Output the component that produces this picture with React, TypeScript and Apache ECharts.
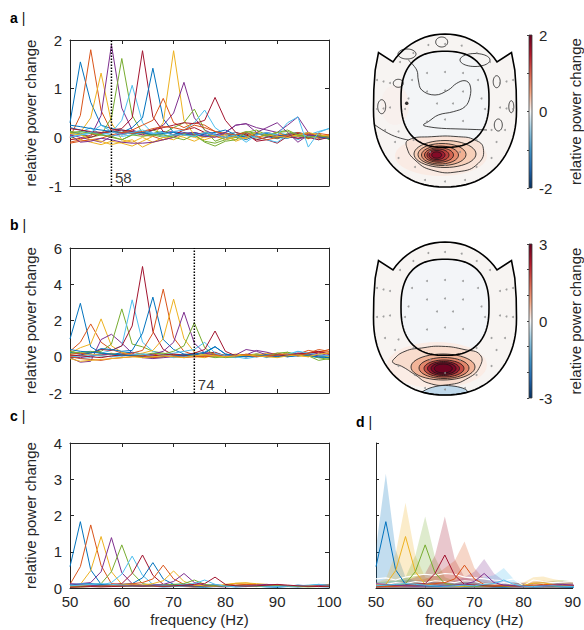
import React, { useEffect, useRef } from "react";
import * as echarts from "echarts";

const FONT = "'Liberation Sans', Arial, Helvetica, sans-serif";
const INK = "#262626";
const FS = 15;
const FREQ = [50, 52, 54, 56, 58, 60, 62, 64, 66, 68, 70, 72, 74, 76, 78, 80, 82, 84, 86, 88, 90, 92, 94, 96, 98, 100];
const MATLAB = ["#0072BD", "#D95319", "#EDB120", "#7E2F8E", "#77AC30", "#4DBEEE", "#A2142F"];

// ---- panel a (relative power change, peak at 58 Hz marked)
const A00 = [0.30,1.55,0.72,0.25,0.18,0.15,0.12,0.10,0.08,0.12,0.05,0.08,0.10,0.05,0.02,0.06,0.00,0.04,0.08,0.02,-0.03,0.05,0.02,-0.02,0.04,0.00];
const A01 = [0.00,0.45,1.80,0.55,0.12,0.05,0.10,0.05,0.02,-0.05,0.00,0.08,0.05,0.10,0.02,-0.04,0.05,0.10,0.00,0.05,-0.02,0.03,0.08,0.05,0.00,0.02];
const A02 = [0.05,0.10,0.40,1.32,0.30,-0.05,-0.10,0.00,-0.10,-0.05,0.05,0.00,-0.08,0.02,0.05,0.00,-0.05,0.03,-0.02,0.05,0.00,0.06,0.02,-0.03,0.04,0.02];
const A03 = [0.12,0.06,0.02,0.45,1.90,0.60,0.15,0.08,0.05,0.10,0.12,0.08,0.10,0.05,0.02,0.06,0.04,0.00,0.05,0.10,0.05,0.02,-0.02,0.03,0.00,0.02];
const A04 = [0.10,0.05,0.00,0.05,0.40,1.62,0.45,0.08,0.05,0.00,0.03,0.08,0.05,-0.08,-0.12,-0.05,0.00,0.05,0.10,0.05,-0.02,0.08,0.03,0.05,-0.02,0.00];
const A05 = [0.05,0.10,0.20,0.05,0.10,0.35,1.07,0.30,0.08,0.02,0.05,0.10,0.06,0.02,0.08,-0.05,0.05,0.10,-0.05,0.00,0.10,0.05,-0.05,0.05,0.12,0.18];
const A06 = [-0.05,-0.02,0.00,0.08,0.15,0.18,0.40,1.78,0.42,0.12,0.05,0.15,0.20,0.10,0.05,0.00,0.05,0.08,-0.08,-0.05,-0.12,0.02,0.08,-0.02,0.05,0.00];
const A07 = [0.20,0.15,0.10,0.08,0.12,0.10,0.20,0.40,1.42,0.38,0.10,0.05,0.08,0.02,0.05,0.10,0.02,-0.05,0.05,0.08,0.00,-0.02,0.05,0.10,0.00,-0.02];
const A08 = [-0.10,-0.05,0.05,0.08,0.12,0.10,0.15,0.25,0.35,0.80,0.30,0.20,0.30,0.25,0.12,0.05,0.10,0.02,0.08,0.05,0.10,0.02,0.05,0.08,-0.02,0.05];
const A09 = [0.00,-0.05,-0.10,-0.15,-0.08,-0.12,-0.18,-0.08,0.02,0.30,1.78,0.35,0.05,0.00,0.05,-0.05,0.02,-0.03,0.08,0.05,0.10,0.00,0.05,0.02,0.00,0.05];
const A10 = [0.05,0.00,-0.05,-0.10,0.02,0.08,0.10,0.05,0.15,0.25,0.50,1.13,0.40,0.15,0.05,0.10,0.25,0.28,0.20,0.15,0.10,0.25,0.42,0.10,0.00,-0.02];
const A11 = [0.12,0.08,0.10,0.05,0.00,-0.05,0.05,0.10,0.15,0.08,0.20,0.30,0.58,0.15,-0.08,0.00,0.05,0.12,0.08,0.02,0.10,0.15,0.05,0.00,0.08,-0.05];
const A12 = [0.00,0.05,0.08,0.10,0.05,0.02,0.05,0.10,0.08,0.05,0.12,0.15,0.30,0.56,0.20,0.05,0.10,0.02,0.00,-0.05,-0.10,0.05,0.10,0.02,-0.05,0.02];
const A13 = [0.18,0.15,0.12,0.10,0.12,0.15,0.12,0.10,0.15,0.20,0.25,0.30,0.28,0.35,0.82,0.35,0.10,0.05,-0.05,0.00,0.05,0.02,-0.02,0.00,-0.05,0.00];
const A14 = [0.25,0.22,0.18,0.15,0.12,0.10,0.08,0.10,0.05,0.08,0.10,0.05,0.02,0.08,0.10,0.15,0.05,0.00,0.08,0.05,0.02,0.06,0.10,0.05,0.02,-0.02];
const A15 = [-0.12,-0.08,-0.05,-0.02,0.05,0.10,0.08,0.12,0.18,0.22,0.20,0.15,0.25,0.20,0.12,0.08,0.05,0.10,0.02,-0.05,0.00,0.05,0.10,0.05,0.08,0.05];
const A16 = [0.08,0.05,-0.05,-0.08,-0.15,-0.10,-0.05,-0.20,-0.10,0.00,-0.05,0.05,0.00,-0.05,0.02,0.05,-0.08,0.00,0.10,0.05,0.02,0.00,0.05,0.10,0.05,0.02];
const A17 = [0.05,-0.10,-0.08,-0.02,-0.05,-0.10,-0.12,-0.12,-0.10,-0.05,0.00,0.10,0.05,0.02,0.00,0.10,0.25,0.28,0.10,0.20,0.30,0.10,-0.10,0.05,0.02,0.00];
const A18 = [0.10,0.12,0.08,0.05,0.02,-0.05,0.05,0.02,0.05,0.05,0.00,-0.05,0.05,-0.10,-0.18,-0.08,-0.05,0.10,0.15,0.05,0.10,0.12,0.05,0.00,0.03,0.00];
const A19 = [0.00,0.05,0.10,0.25,0.12,0.05,0.10,0.15,0.08,0.10,0.05,0.05,0.02,0.10,0.05,0.00,0.05,-0.10,0.05,0.10,0.05,0.30,0.42,-0.20,0.10,0.18];
const PANEL_A = [A00,A01,A02,A03,A04,A05,A06,A07,A08,A09,A10,A11,A12,A13,A14,A15,A16,A17,A18,A19];
const A_MARK = 58;

// ---- panel b (peak at 74 Hz marked)
const B00 = [0.98,2.95,0.55,0.20,0.15,0.20,0.25,0.15,0.10,0.05,0.00,0.10,0.05,0.08,0.02,0.10,0.05,0.00,0.15,0.10,0.05,0.00,0.10,0.05,-0.05,0.00];
const B01 = [0.30,0.80,1.81,0.80,0.40,0.20,0.10,0.05,0.15,0.05,0.00,0.10,0.05,0.10,0.20,0.05,0.00,0.10,0.05,0.15,0.10,0.05,0.20,0.15,0.30,0.25];
const B02 = [0.20,0.50,0.70,2.09,0.60,0.25,0.10,0.05,0.00,0.15,0.10,0.05,0.00,-0.05,0.10,0.05,0.15,0.10,0.05,0.20,0.10,0.15,0.05,0.00,0.10,0.05];
const B03 = [-0.05,-0.30,-0.25,0.95,1.24,0.75,0.20,-0.05,-0.10,-0.05,0.00,0.05,0.00,0.05,0.10,0.05,0.00,0.10,0.35,0.25,0.10,0.05,0.15,0.10,0.20,0.05];
const B04 = [0.30,0.20,0.25,0.30,0.70,2.64,0.70,0.55,0.30,0.20,0.10,0.05,0.10,0.05,-0.05,0.00,0.05,0.10,0.15,0.05,0.00,0.25,0.10,0.05,-0.20,-0.10];
const B05 = [0.10,-0.10,-0.05,0.20,0.35,0.60,3.14,0.80,0.30,0.10,-0.05,0.00,0.05,0.10,0.05,0.00,-0.05,0.05,0.10,-0.05,0.10,0.05,0.30,0.15,0.10,0.05];
const B06 = [0.05,0.10,0.20,0.40,0.35,0.60,1.70,4.98,1.40,0.40,0.10,0.05,0.15,0.20,0.25,0.05,0.10,0.00,0.05,0.10,0.00,0.05,0.10,0.20,0.25,0.15];
const B07 = [0.25,0.15,0.20,0.45,0.40,0.30,0.35,1.30,3.29,0.95,0.40,0.15,0.10,0.20,0.55,0.15,0.05,0.10,0.00,0.05,0.10,0.00,0.05,0.10,0.05,0.00];
const B08 = [0.15,0.20,0.10,0.05,0.00,0.10,0.20,0.35,1.30,3.73,1.05,0.30,0.10,0.00,0.05,0.10,0.00,0.15,0.05,0.10,0.20,0.10,0.15,0.35,0.25,0.40];
const B09 = [0.10,0.05,0.15,0.10,0.20,0.05,0.10,0.20,0.35,1.00,3.18,1.00,0.25,0.10,0.05,0.00,0.10,0.05,0.15,0.10,0.05,0.20,0.15,0.05,0.10,0.00];
const B10 = [0.00,-0.05,0.05,0.10,0.15,0.05,0.10,0.05,0.15,0.30,0.80,2.46,0.75,0.20,0.10,0.05,0.10,0.40,0.30,0.10,0.05,0.10,0.20,0.15,0.05,0.10];
const B11 = [0.20,0.25,0.30,0.20,0.15,0.10,0.05,0.10,0.20,0.15,0.30,0.60,1.88,0.50,0.05,-0.05,0.00,0.05,0.10,0.00,0.20,0.25,0.05,0.10,-0.05,-0.15];
const B12 = [0.00,0.05,0.10,0.05,0.00,0.05,0.10,0.15,0.05,0.10,0.20,0.30,0.40,0.80,0.20,0.05,0.00,-0.10,0.00,0.10,0.05,0.15,0.30,0.20,0.10,0.05];
const B13 = [0.10,0.05,0.00,-0.05,0.05,0.10,0.05,0.00,0.05,0.10,0.15,0.10,0.20,0.40,1.42,0.30,0.05,0.10,0.05,0.00,0.10,0.05,0.15,0.20,0.30,0.15];
const B14 = [0.40,0.30,0.25,0.20,0.15,0.10,0.05,0.00,-0.05,0.00,0.05,0.10,0.15,0.25,0.56,0.15,0.05,0.00,0.05,0.10,0.00,0.05,0.10,0.05,0.00,-0.05];
const B15 = [0.00,-0.10,-0.15,-0.20,-0.10,-0.05,0.00,0.05,-0.05,0.00,0.05,-0.05,0.00,0.05,0.10,0.00,0.05,0.10,0.00,0.05,0.10,0.15,0.05,0.20,0.40,0.30];
const B16 = [-0.10,-0.25,-0.20,-0.15,-0.10,-0.05,0.00,-0.05,0.00,0.05,0.00,-0.05,0.05,0.10,0.05,0.00,0.05,0.10,0.05,0.00,-0.05,0.05,0.10,0.00,0.15,0.20];
const PANEL_B = [B00,B01,B02,B03,B04,B05,B06,B07,B08,B09,B10,B11,B12,B13,B14,B15,B16];
const B_MARK = 74;

// ---- panel c (group average)
const C00 = [0.59,1.83,0.50,0.10,0.08,0.06,0.05,0.04,0.05,0.03,0.04,0.05,0.03,0.02,0.04,0.05,0.03,0.04,0.05,0.03,0.02,0.04,0.03,0.05,0.04,0.03];
const C01 = [0.10,0.59,1.74,0.62,0.12,0.08,0.06,0.05,0.04,0.06,0.05,0.04,0.03,0.05,0.04,0.06,0.12,0.10,0.08,0.06,0.05,0.04,0.06,0.05,0.04,0.06];
const C02 = [0.08,0.10,0.48,1.42,0.45,0.10,0.08,0.06,0.05,0.04,0.06,0.05,0.04,0.05,0.06,0.08,0.13,0.14,0.10,0.08,0.06,0.05,0.04,0.06,0.05,0.04];
const C03 = [0.06,0.12,0.15,0.45,1.39,0.42,0.12,0.08,0.06,0.05,0.04,0.05,0.06,0.05,0.04,0.03,0.05,0.06,0.05,0.08,0.09,0.06,0.05,0.04,0.06,0.05];
const C04 = [0.05,0.06,0.08,0.12,0.45,1.19,0.42,0.12,0.08,0.06,0.05,0.06,0.05,0.04,0.05,0.06,0.05,0.04,0.05,0.06,0.05,0.04,0.06,0.05,0.04,0.05];
const C05 = [0.10,0.12,0.10,0.08,0.15,0.38,0.88,0.35,0.10,0.08,0.06,0.05,0.06,0.08,0.10,0.06,0.05,0.04,0.05,0.04,0.06,0.05,0.04,0.06,0.10,0.08];
const C06 = [0.04,0.05,0.06,0.08,0.10,0.12,0.40,0.91,0.35,0.10,0.08,0.06,0.05,0.06,0.08,0.06,0.05,0.04,0.06,0.08,0.06,0.05,0.04,0.05,0.06,0.05];
const C07 = [0.08,0.10,0.12,0.10,0.08,0.10,0.12,0.28,0.70,0.25,0.10,0.08,0.06,0.05,0.04,0.05,0.06,0.05,0.04,0.05,0.06,0.05,0.08,0.06,0.05,0.04];
const C08 = [0.03,0.04,0.05,0.06,0.08,0.10,0.12,0.15,0.25,0.63,0.25,0.10,0.08,0.06,0.05,0.06,0.08,0.10,0.09,0.08,0.07,0.06,0.05,0.06,0.08,0.10];
const C09 = [0.05,0.06,0.05,0.04,0.06,0.08,0.10,0.08,0.12,0.20,0.47,0.18,0.08,0.06,0.05,0.10,0.13,0.14,0.12,0.10,0.08,0.06,0.05,0.06,0.05,0.04];
const C10 = [0.12,0.10,0.08,0.06,0.05,0.06,0.08,0.06,0.08,0.10,0.18,0.40,0.15,0.08,0.06,0.05,0.04,0.06,0.08,0.10,0.08,0.06,0.05,0.04,0.06,0.05];
const C11 = [0.02,0.03,0.04,0.05,0.04,0.05,0.06,0.05,0.06,0.08,0.10,0.12,0.22,0.10,0.06,0.05,0.06,0.05,0.04,0.05,0.06,0.05,0.04,0.03,0.04,0.05];
const C12 = [0.06,0.08,0.10,0.12,0.10,0.08,0.06,0.05,0.06,0.08,0.06,0.10,0.12,0.22,0.10,0.05,0.04,0.05,0.06,0.05,0.04,0.05,0.06,0.08,0.10,0.08];
const C13 = [0.02,0.03,0.04,0.03,0.04,0.05,0.06,0.05,0.06,0.05,0.06,0.08,0.10,0.12,0.30,0.10,0.06,0.05,0.06,0.08,0.10,0.08,0.06,0.05,0.04,0.05];
const PANEL_C = [C00,C01,C02,C03,C04,C05,C06,C07,C08,C09,C10,C11,C12,C13];

// ---- panel d (every other condition of c, with spread bands)
const D_MEAN_INDEX = [0, 2, 4, 6, 8, 10, 12];
const U00 = [1.10,3.15,1.05,0.30,0.20,0.18,0.15,0.12,0.12,0.10,0.10,0.12,0.10,0.08,0.10,0.12,0.10,0.10,0.12,0.10,0.08,0.10,0.10,0.12,0.10,0.08];
const U02 = [0.15,0.25,0.95,2.35,0.90,0.30,0.20,0.15,0.12,0.10,0.12,0.15,0.12,0.10,0.12,0.15,0.30,0.32,0.25,0.20,0.15,0.12,0.10,0.12,0.10,0.10];
const U04 = [0.15,0.18,0.20,0.30,0.90,1.97,0.85,0.30,0.20,0.18,0.15,0.15,0.12,0.12,0.15,0.12,0.15,0.18,0.20,0.22,0.18,0.15,0.12,0.12,0.15,0.12];
const U06 = [0.10,0.12,0.15,0.20,0.30,0.40,0.90,1.97,0.80,0.30,0.20,0.15,0.12,0.12,0.15,0.12,0.10,0.12,0.15,0.12,0.10,0.12,0.10,0.12,0.10,0.10];
const U08 = [0.10,0.10,0.12,0.15,0.20,0.25,0.35,0.55,0.75,1.28,0.55,0.25,0.15,0.12,0.12,0.15,0.18,0.20,0.18,0.15,0.15,0.12,0.12,0.15,0.15,0.18];
const U10 = [0.15,0.12,0.12,0.10,0.12,0.15,0.18,0.15,0.20,0.30,0.45,0.80,0.40,0.20,0.15,0.12,0.12,0.15,0.15,0.18,0.15,0.12,0.10,0.12,0.12,0.10];
const U12 = [0.15,0.18,0.20,0.22,0.20,0.18,0.15,0.12,0.15,0.18,0.20,0.30,0.35,0.55,0.25,0.12,0.10,0.12,0.15,0.12,0.10,0.12,0.12,0.15,0.18,0.15];
const D_UPPER = [U00, U02, U04, U06, U08, U10, U12];
const W01 = [0.25,0.28,0.22,0.30,0.35,0.38,0.35,0.40,0.38,0.30,0.28,0.25,0.22,0.20,0.25,0.06,0.22,0.18,0.15,0.16,0.18,0.15,0.14,0.12,0.14,0.12];
const W02 = [0.12,0.10,0.15,0.12,0.18,0.15,0.20,0.18,0.15,0.20,0.18,0.12,0.10,0.15,0.10,0.05,0.08,0.12,0.10,0.08,0.06,0.08,0.10,0.08,0.06,0.05];
const D_WHITE = [W01, W02];

// ---- topographies: sensor positions (mm from head centre)
const SENSORS = [
  [-16.7,65],[0,66],[16.7,64.3],[-31.7,57],[31.7,57],[-45,48],[45,48],
  [-18,37],[0,38],[18,37],[-33,30],[33,30],
  [-68,30],[-61.5,28.5],[-55,27],[55,27],[61.5,28.5],[68,30],
  [-18,18.5],[0,19.5],[18,18.5],[-36.5,11.5],[36.5,11.5],
  [-68,1],[-61.5,1.5],[-55,2.5],[-40,1],[-8,6.5],[8,6.5],[40,1],[55,2.5],[61.5,1.5],[68,1],
  [-18,-11.5],[0,-9.5],[18,-11],[-60,-20],[-46.5,-21.5],[46.5,-20],[60,-20],
  [-31.5,-30],[31.5,-30],[-50,-32],[51.5,-32],[-46.5,-48],[46.5,-48],[-15,-42],[15,-42],
  [-30,-57],[31.5,-57],[0,-55],[-20,-70],[0,-71.5],[20,-70]
];
const MARKED_SENSOR_A = [[-38.3, 6.7]];
const CB_A = [-2, 2];
const CB_B = [-3, 3];
const RDBU = ["#67001f","#b2182b","#d6604d","#f4a582","#f7f7f7","#92c5de","#4393c3","#2166ac","#053061"];

// ---------- geometry helpers for the head drawings ----------
const BOTTOM_P = 2.2;
function ellipse(c: number[], r: number[], n = 44) {
  const pts: number[][] = [];
  for (let i = 0; i < n; i++) {
    const t = (2 * Math.PI * i) / n;
    pts.push([c[0] + r[0] * Math.cos(t), c[1] + r[1] * Math.sin(t)]);
  }
  return pts;
}
function superEllipse(c: number[], r: number[], p: number, n = 90) {
  const pts: number[][] = [];
  for (let i = 0; i < n; i++) {
    const t = (2 * Math.PI * i) / n;
    const co = Math.cos(t), si = Math.sin(t);
    pts.push([c[0] + r[0] * Math.sign(co) * Math.pow(Math.abs(co), 2 / p), c[1] + r[1] * Math.sign(si) * Math.pow(Math.abs(si), 2 / p)]);
  }
  return pts;
}
function bottomY(x: number) {
  const q = Math.pow(Math.abs(x / 71.5), BOTTOM_P);
  return -77 * Math.pow(Math.max(0, 1 - q), 1 / BOTTOM_P);
}
function headOutline() {
  const pts: number[][] = [[-71.5, 0], [-71.2, 20], [-69.8, 40], [-66.5, 57.5], [-52, 48]];
  const a0 = Math.atan2(48 - 13.7, -52), a1 = Math.atan2(48 - 13.7, 52);
  for (let i = 1; i < 24; i++) {
    const t = a0 + ((a1 - a0) * i) / 24;
    pts.push([62.3 * Math.cos(t), 13.7 + 62.3 * Math.sin(t)]);
  }
  pts.push([52, 48], [66.5, 57.5], [69.8, 40], [71.2, 20], [71.5, 0]);
  for (let i = 1; i < 48; i++) {
    const t = -(Math.PI * i) / 48;
    const co = Math.cos(t), si = Math.sin(t);
    pts.push([71.5 * Math.sign(co) * Math.pow(Math.abs(co), 2 / BOTTOM_P), 77 * Math.sign(si) * Math.pow(Math.abs(si), 2 / BOTTOM_P)]);
  }
  return pts;
}
const HEAD_OUTLINE = headOutline();
const INNER_O = superEllipse([0, 10.7], [44, 48], 2.5);
function blueCap() {
  const pts: number[][] = [[-23, bottomY(-23)], [-15, -70], [-3, -67.5], [10, -68.3], [20, -71], [23, bottomY(23)]];
  for (let x = 21; x >= -21; x -= 3) pts.push([x, bottomY(x)]);
  return pts;
}

const HEAD_A = {
  fill: "#f7f4f2",
  innerFill: "#f3f5f7",
  halos: [
    { c: [-4, -46], r: [46, 20], fill: "#faebe4" },
    { c: [-50, 5], r: [14, 20], fill: "#f8f0ed" }
  ],
  shapes: [
    { pts: [[-36.7,-30],[-13.3,-26.7],[13.3,-26.7],[30,-30],[38.3,-38.3],[33.3,-53.3],[13.3,-61.7],[-13.3,-60],[-30,-50],[-38,-38]], smooth: 0.5, fill: "#f9e3d8" },
    { c: [0, -44], r: [31, 13.5], fill: "#f7cfb9" },
    { c: [-3, -44.5], r: [24, 11], fill: "#f1b093" },
    { c: [-5, -45], r: [18.5, 9], fill: "#e68b6d" },
    { c: [-6, -45], r: [14.5, 7.3], fill: "#d2634f" },
    { c: [-7, -45], r: [11, 6], fill: "#bb3d3d" },
    { c: [-8, -45], r: [8, 4.6], fill: "#a11e32" },
    { c: [-8.3, -45], r: [5, 3.2], fill: "#840b27" },
    { pts: [[-71.3,-14],[-53.3,-25],[-36.7,-30]], open: true, smooth: 0.5 },
    { pts: [[-36.7,50],[-28.3,40],[-26.7,30],[-23.3,20],[-10,15],[3.3,20],[11.7,26.7],[20,29.3],[25,25],[25,13.3],[20,3.3],[8.3,-1.7],[-6.7,-5],[-16.7,-11.7],[-21.7,-15],[-16.7,-16.7],[-3.3,-18.3],[15,-19],[30,-19.5],[42,-20]], open: true, smooth: 0.4 },
    { c: [-3.3, 68], r: [6, 5] },
    { c: [-46.7, 26.7], r: [5, 4] },
    { c: [-63.3, 3.3], r: [4, 7] },
    { c: [51.7, 28.3], r: [3.5, 6] },
    { c: [66.3, 3.3], r: [2.5, 6] },
    { c: [53.3, -15], r: [4, 6] },
    { c: [30, 50], r: [15, 6.5] },
    { c: [-38, 56], r: [9, 5] }
  ]
};
const HEAD_B = {
  fill: "#f7f4f2",
  innerFill: "#f3f5f8",
  halos: [
    { c: [-8, -47], r: [50, 23], fill: "#fbece5" }
  ],
  shapes: [
    { pts: [[-51.7,-41.7],[-40,-33.3],[-23.3,-30],[-3.3,-28.3],[20,-31.7],[35,-36.7],[35,-48.3],[23.3,-60],[3.3,-66.7],[-16.7,-65],[-30,-56.7],[-43.3,-48.3],[-51.7,-45]], smooth: 0.5, fill: "#f8dccd" },
    { pts: blueCap(), smooth: 0.3, fill: "#bfd8ea" },
    { c: [-2, -49], r: [32, 13], fill: "#f2b498" },
    { c: [-1, -50], r: [25, 10.5], fill: "#e2866b" },
    { c: [-1, -50.5], r: [20, 8.5], fill: "#c34b43" },
    { c: [-1.5, -50.5], r: [16, 7], fill: "#961b30" },
    { c: [-1.5, -50.5], r: [12.5, 5.8], fill: "#7c0926" },
    { c: [-1.7, -50.5], r: [9, 4.5], fill: "#6e0322" }
  ]
};

function makeHeadRenderer(spec: any) {
  return (params: any, api: any) => {
    const px = (pts: number[][]) => pts.map((p) => api.coord(p));
    const outline = px(HEAD_OUTLINE);
    const inner = px(INNER_O);
    const children: any[] = [];
    children.push({ type: "polygon", shape: { points: outline }, style: { fill: spec.fill, lineWidth: 0 } });
    children.push({ type: "polygon", shape: { points: inner }, style: { fill: spec.innerFill, lineWidth: 0 } });
    spec.halos.forEach((h: any) =>
      children.push({ type: "polygon", shape: { points: px(ellipse(h.c, h.r)) }, style: { fill: h.fill, lineWidth: 0 } })
    );
    spec.shapes.forEach((s: any) => {
      const pts = px(s.pts ? s.pts : ellipse(s.c, s.r));
      children.push({
        type: s.open ? "polyline" : "polygon",
        shape: { points: pts, smooth: s.smooth || 0 },
        style: { fill: s.open ? "none" : s.fill || "none", stroke: "#151515", lineWidth: 0.8 }
      });
    });
    children.push({ type: "polygon", shape: { points: inner }, style: { fill: "none", stroke: "#000", lineWidth: 1.6 } });
    children.push({ type: "polygon", shape: { points: outline }, style: { fill: "none", stroke: "#000", lineWidth: 1.6 } });
    return { type: "group", children };
  };
}

function colorbarRenderer(range: number[]) {
  return (params: any, api: any) => {
    const p0 = api.coord([0, range[1]]);
    const p1 = api.coord([1, range[0]]);
    return {
      type: "rect",
      shape: { x: p0[0], y: p0[1], width: p1[0] - p0[0], height: p1[1] - p0[1] },
      style: {
        fill: new echarts.graphic.LinearGradient(0, 0, 0, 1, RDBU.map((c, i) => ({ offset: i / (RDBU.length - 1), color: c }))),
        stroke: "#3a3a3a",
        lineWidth: 0.8
      }
    };
  };
}

const axisLineStyle = { show: true, onZero: false, lineStyle: { color: INK, width: 1 } };
const tickStyle = { show: true, inside: true, length: 4, lineStyle: { color: INK, width: 1 } };
const labelStyle = { color: INK, fontSize: FS, fontFamily: FONT };
const nameStyle = { color: INK, fontSize: FS, fontFamily: FONT };

function xPair(grid: number, showLabels: boolean, name?: string) {
  return [
    {
      type: "value", gridIndex: grid, min: 50, max: 100, interval: 10, position: "bottom",
      axisLine: axisLineStyle, axisTick: tickStyle, splitLine: { show: false },
      axisLabel: { ...labelStyle, show: showLabels, margin: 6 },
      name: name || "", nameLocation: "middle", nameGap: 24, nameTextStyle: nameStyle
    },
    {
      type: "value", gridIndex: grid, min: 50, max: 100, interval: 10, position: "top",
      axisLine: axisLineStyle, axisTick: tickStyle, splitLine: { show: false }, axisLabel: { show: false }
    }
  ];
}
function yPair(grid: number, min: number, max: number, interval: number) {
  return [
    {
      type: "value", gridIndex: grid, min, max, interval, position: "left",
      axisLine: axisLineStyle, axisTick: tickStyle, splitLine: { show: false },
      axisLabel: { ...labelStyle, margin: 8 },
      name: "relative power change", nameLocation: "middle", nameGap: 32, nameTextStyle: nameStyle
    },
    {
      type: "value", gridIndex: grid, min, max, interval, position: "right",
      axisLine: axisLineStyle, axisTick: tickStyle, splitLine: { show: false }, axisLabel: { show: false }
    }
  ];
}

function lineSeries(vals: number[], color: string, xi: number, yi: number, width = 1) {
  return {
    type: "line", xAxisIndex: xi, yAxisIndex: yi, silent: true,
    data: FREQ.map((f, i) => [f, vals[i]]),
    showSymbol: false, symbol: "none",
    lineStyle: { width, color }, itemStyle: { color }, z: 3
  };
}
function markSeries(freq: number, min: number, max: number, xi: number, yi: number) {
  return [
    {
      type: "line", xAxisIndex: xi, yAxisIndex: yi, silent: true,
      data: [[freq, min], [freq, max]], showSymbol: false, symbol: "none",
      lineStyle: { color: "#000", width: 1.5, type: [1.5, 1.5] }, z: 5
    },
    {
      type: "scatter", xAxisIndex: xi, yAxisIndex: yi, silent: true,
      data: [[freq, min]], symbolSize: 1, itemStyle: { color: "rgba(0,0,0,0)" },
      label: { show: true, formatter: String(freq), position: "right", distance: 3, offset: [0, -9], color: "#000", fontSize: FS, fontFamily: FONT },
      z: 6
    }
  ];
}
function cbAxis(grid: number, range: number[], step: number) {
  return {
    type: "value", gridIndex: grid, min: range[0], max: range[1], interval: 1, position: "right",
    axisLine: { show: false }, splitLine: { show: false },
    axisTick: { show: true, inside: true, length: 2, lineStyle: { color: "#444" } },
    axisLabel: { ...labelStyle, margin: 7, formatter: (v: number) => (v % step === 0 ? String(v) : "") },
    name: "relative power change", nameLocation: "middle", nameRotate: 90, nameGap: 36, nameTextStyle: nameStyle
  };
}

function buildOption() {
  const hidden = (grid: number, min: number, max: number) => ({ type: "value", gridIndex: grid, min, max, show: false });
  const xAxis: any[] = [
    ...xPair(0, false), ...xPair(1, false), ...xPair(2, true, "frequency (Hz)"),
    {
      type: "value", gridIndex: 3, min: 50, max: 90, interval: 10, position: "bottom",
      axisLine: axisLineStyle, axisTick: { ...tickStyle, length: 3 }, splitLine: { show: false },
      axisLabel: { ...labelStyle, margin: 6 },
      name: "frequency (Hz)", nameLocation: "middle", nameGap: 24, nameTextStyle: nameStyle
    },
    hidden(4, -72, 72), hidden(5, -72, 72), hidden(6, 0, 1), hidden(7, 0, 1)
  ];
  const yAxis: any[] = [
    ...yPair(0, -1, 2, 1), ...yPair(1, -2, 6, 2), ...yPair(2, 0, 4, 1),
    {
      type: "value", gridIndex: 3, min: 0, max: 4, interval: 1, position: "left",
      axisLine: axisLineStyle, axisTick: { ...tickStyle, length: 3 }, splitLine: { show: false }, axisLabel: { show: false }
    },
    hidden(4, -77, 77), hidden(5, -77, 77), cbAxis(6, CB_A, 2), cbAxis(7, CB_B, 3)
  ];
  // axis indices: a:0/1, b:2/3, c:4/5, d:6, headA:7, headB:8, cbA:9, cbB:10
  const series: any[] = [];
  PANEL_A.forEach((v, k) => series.push(lineSeries(v, MATLAB[k % 7], 0, 0)));
  series.push(...markSeries(A_MARK, -1, 2, 0, 0));
  PANEL_B.forEach((v, k) => series.push(lineSeries(v, MATLAB[k % 7], 2, 2)));
  series.push(...markSeries(B_MARK, -2, 6, 2, 2));
  PANEL_C.forEach((v, k) => series.push(lineSeries(v, MATLAB[k % 7], 4, 4)));
  D_UPPER.forEach((u, j) => {
    const color = MATLAB[D_MEAN_INDEX[j] % 7];
    series.push({
      type: "line", xAxisIndex: 6, yAxisIndex: 6, silent: true,
      data: FREQ.map((f, i) => [f, u[i]]), showSymbol: false, symbol: "none",
      lineStyle: { width: 0, opacity: 0 }, areaStyle: { color, opacity: 0.24 }, z: 2
    });
  });
  D_WHITE.forEach((w) => series.push({ ...lineSeries(w, "#ffffff", 6, 6, 1.2), z: 3 }));
  D_MEAN_INDEX.forEach((idx) => series.push({ ...lineSeries(PANEL_C[idx], MATLAB[idx % 7], 6, 6), z: 4 }));
  series.push({ type: "custom", xAxisIndex: 7, yAxisIndex: 7, data: [[0, 0]], silent: true, renderItem: makeHeadRenderer(HEAD_A), z: 1 });
  series.push({ type: "scatter", xAxisIndex: 7, yAxisIndex: 7, data: SENSORS, symbolSize: 2, itemStyle: { color: "#8c8c8c" }, silent: true, z: 3 });
  series.push({ type: "scatter", xAxisIndex: 7, yAxisIndex: 7, data: MARKED_SENSOR_A, symbolSize: 3.5, itemStyle: { color: "#000" }, silent: true, z: 4 });
  series.push({ type: "custom", xAxisIndex: 8, yAxisIndex: 8, data: [[0, 0]], silent: true, renderItem: makeHeadRenderer(HEAD_B), z: 1 });
  series.push({ type: "scatter", xAxisIndex: 8, yAxisIndex: 8, data: SENSORS, symbolSize: 2, itemStyle: { color: "#8c8c8c" }, silent: true, z: 3 });
  series.push({ type: "custom", xAxisIndex: 9, yAxisIndex: 9, data: [[0, 0]], silent: true, renderItem: colorbarRenderer(CB_A), z: 1 });
  series.push({ type: "custom", xAxisIndex: 10, yAxisIndex: 10, data: [[0, 0]], silent: true, renderItem: colorbarRenderer(CB_B), z: 1 });

  const panelTitle = (letter: string, left: number, top: number) => ({
    text: "{b|" + letter + "} |", left, top, padding: 0,
    textStyle: { fontSize: 14, fontWeight: "normal", color: "#111", fontFamily: FONT, rich: { b: { fontWeight: "bold", fontSize: 14, color: "#000", fontFamily: FONT } } }
  });

  return {
    animation: false,
    backgroundColor: "#ffffff",
    textStyle: { fontFamily: FONT },
    title: [panelTitle("a", 10, 11), panelTitle("b", 10, 218), panelTitle("c", 10, 409), panelTitle("d", 356, 415)],
    grid: [
      { left: 70, top: 40, width: 259, height: 146 },
      { left: 70, top: 248, width: 259, height: 145 },
      { left: 70, top: 443, width: 259, height: 145 },
      { left: 376, top: 443, width: 207, height: 145 },
      { left: 373, top: 33, width: 144, height: 154 },
      { left: 373, top: 241, width: 144, height: 154 },
      { left: 529, top: 35, width: 11, height: 153 },
      { left: 529, top: 244, width: 11, height: 154 }
    ],
    xAxis,
    yAxis,
    series
  };
}

export default function App() {
  const ref = useRef<HTMLDivElement>(null);
  useEffect(() => {
    if (!ref.current) return;
    const chart = echarts.init(ref.current, undefined, { renderer: "svg" });
    chart.setOption(buildOption() as any);
    return () => chart.dispose();
  }, []);
  return <div ref={ref} style={{ position: "fixed", left: 0, top: 0, width: 584, height: 630, background: "#fff" }} />;
}
